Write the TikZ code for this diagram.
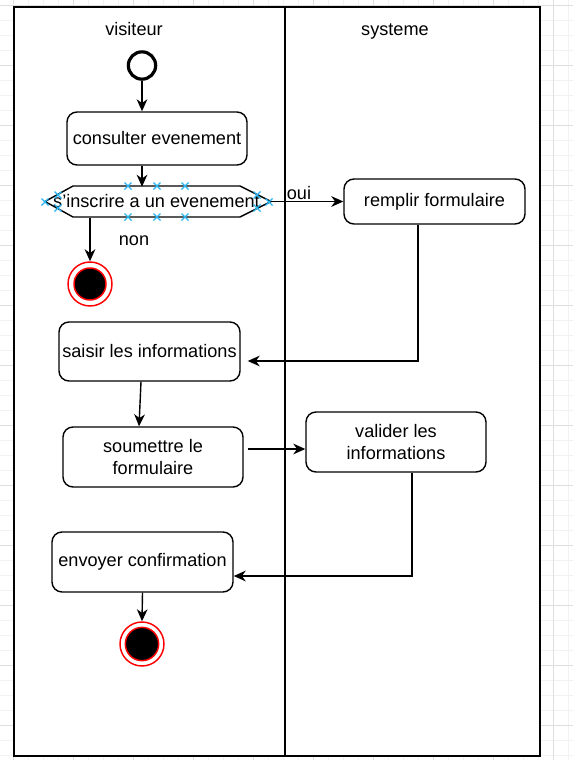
\documentclass[tikz,border=0pt]{standalone}
\usepackage{fontspec}
\setmainfont{Liberation Sans}
\usetikzlibrary{arrows.meta,calc}
\newcommand\dfont{\fontsize{13.6}{16.5}\selectfont}
\definecolor{selblue}{HTML}{29B6F2}
\begin{document}
\begin{tikzpicture}[x=0.75pt,y=-0.75pt,
  box/.style={draw, rounded corners=7.5pt, line width=1.05pt, fill=white, align=center, inner sep=0pt, font=\dfont},
  arr/.style={-{Stealth[length=9pt,width=8pt,inset=2.8pt]}, line width=1.05pt},
  lbl/.style={font=\dfont, inner sep=0pt, text height=9.8pt, text depth=2.8pt},
  mingrid/.style={draw=black!5, line width=0.6pt},
  majgrid/.style={draw=black!13, line width=0.75pt},
  lane/.style={draw, line width=1.2pt, fill=white},
  endst/.style={circle, draw=red, line width=1.1pt, fill=white, minimum size=33pt, inner sep=0pt},
  startst/.style={circle, draw, line width=2.4pt, fill=white, minimum size=20.5pt, inner sep=0pt},
  sel/.style={draw=selblue, line width=0.9pt}]
\useasboundingbox (0,0) rectangle (573,760);
\fill[white] (0,0) rectangle (573,760);
% grid
\foreach \x in {-2,13,...,575} \draw[mingrid] (\x,0) -- (\x,760);
\foreach \y in {5,20,...,760} \draw[mingrid] (0,\y) -- (573,\y);
\foreach \x in {13,73,...,575} \draw[majgrid] (\x,0) -- (\x,760);
\foreach \y in {5,65,...,760} \draw[majgrid] (0,\y) -- (573,\y);
% swimlanes
\draw[lane] (14,7) rectangle (540,756);
\draw[line width=1.2pt] (285,7) -- (285,756);
\node[lbl] (lvis) at (134,30.5) {visiteur};
\node[lbl] (lsys) at (395,30.5) {systeme};
% nodes
\node[startst] (start) at (142,65.5) {};
\node[box, minimum width=135pt, minimum height=39.75pt] (cons) at (157,138.5) {consulter evenement};
\draw[line width=1.05pt, fill=white] (45,201.5) -- (73,186) -- (240,186) -- (271,201.5) -- (240,217) -- (73,217) -- cycle;
\node[lbl, minimum width=125.25pt, minimum height=23.25pt] (hex) at (156.5,202.5) {\makebox[0pt]{s'inscrire a un evenement}};
\coordinate (hexR) at (271,201.5);
\node[endst] (f1) at (90,284) {};
\draw[red, fill=black, line width=1.1pt] (f1.center) circle[radius=12pt];
\node[box, minimum width=135.75pt, minimum height=33.75pt] (rem) at (434.5,201.5) {remplir formulaire};
\node[box, minimum width=135.75pt, minimum height=44.25pt] (saisir) at (149.5,351.5) {saisir les informations};
\node[box, minimum width=135pt, minimum height=45pt] (soum) at (153,457) {soumettre le\\formulaire};
\node[box, minimum width=135pt, minimum height=45pt] (val) at (396,442) {valider les\\informations};
\node[box, minimum width=135.75pt, minimum height=45pt] (env) at (142.5,562) {envoyer confirmation};
\node[endst] (f2) at (142,644) {};
\draw[red, fill=black, line width=1.1pt] (f2.center) circle[radius=12.5pt];
% selection markers
\foreach \p in {(128,186),(157,186),(185,186),(128,217),(157,217),(185,217),(45,202),(58,195),(58,208),(257,195),(257,208),(269,202)}
  \draw[sel] \p ++(-3.5,-3.5) -- ++(7,7) \p ++(-3.5,3.5) -- ++(7,-7);
% connectors
\draw[arr] (start) -- (start |- cons.north);
\draw[arr] (start |- cons.south) -- (start |- hex.north);
\draw[arr] (hex.south -| f1) -- (f1.north);
\draw[arr] (hexR) -- (rem.west);
\node[lbl] (oui) at (299,194.5) {oui};
\node[lbl] (non) at (134,240.5) {non};
\coordinate (k1) at (418,361);
\draw[arr, shorten >=5.25pt] (rem.south -| k1) -- (k1) -- (saisir.east |- k1);
\draw[arr] ($(saisir.south)+(-8.5,0)$) -- ($(soum.north)+(-14,0)$);
\coordinate (k2) at (250,449);
\draw[arr, shorten <=3pt] (soum.east |- k2) -- (val.west |- k2);
\coordinate (k3) at (412,576);
\draw[arr] (val.south -| k3) -- (k3) -- (env.east |- k3);
\draw[arr] (env.south) -- (f2.north);
\end{tikzpicture}
\end{document}
